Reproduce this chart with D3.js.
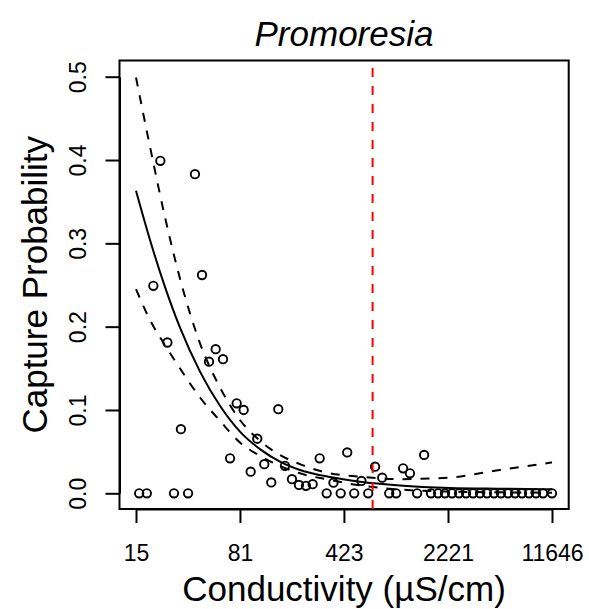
<!DOCTYPE html>
<html>
<head>
<meta charset="utf-8">
<script src="https://cdn.jsdelivr.net/npm/d3@7"></script>
<style>
  html, body { margin: 0; padding: 0; background: #fff; }
  svg { display: block; font-family: "Liberation Sans", Arial, Helvetica, sans-serif; }
</style>
</head>
<body>
<svg id="chart" width="589" height="609"></svg>
<script>
// ---- data ----
const title = "Promoresia";
const xLabel = "Conductivity (µS/cm)";
const yLabel = "Capture Probability";

// x tick positions (conductivity) and their printed labels
const xTickValues = [15.4, 80.7, 423, 2221, 11646];
const xTickLabels = ["15", "81", "423", "2221", "11646"];
const yTickValues = [0, 0.1, 0.2, 0.3, 0.4, 0.5];
const yTickLabels = ["0.0", "0.1", "0.2", "0.3", "0.4", "0.5"];

// observed sites: conductivity and capture probability
const siteCond = [16.2, 18.3, 20.3, 22.7, 25.4, 28.2, 31.5, 35.3, 39.4, 44.1,
  49.3, 54.8, 61.6, 68.9, 76.6, 85.6, 95.7, 106.3, 118.9, 132.9,
  148.6, 165.3, 184.8, 206.6, 231, 257, 287.4, 321.3, 358, 401.6,
  445.9, 498.4, 559, 623, 695, 778.7, 870.6, 971.8, 1086, 1211,
  1358, 1518, 1694, 1894, 2117, 2367, 2647, 2959, 3308, 3698,
  4135, 4623, 5168, 5778, 6460, 7221, 8074, 9026, 10091, 11646];
const siteProb = [0, 0, 0.249, 0.399, 0.181, 0, 0.077, 0, 0.383, 0.262,
  0.158, 0.173, 0.161, 0.042, 0.108, 0.100, 0.026, 0.0655, 0.035, 0.013,
  0.101, 0.033, 0.017, 0.010, 0.009, 0.011, 0.042, 0, 0.0127, 0,
  0.049, 0, 0.0148, 0, 0.032, 0.0187, 0, 0, 0.030, 0.024,
  0, 0.046, 0, 0, 0, 0, 0, 0, 0, 0,
  0, 0, 0, 0, 0, 0, 0, 0, 0, 0];

// fitted curve and confidence bounds, read at these conductivities
const curveCond = [15.4, 19.25, 24.4, 31.0, 42.7, 58.7, 80.7, 111, 152.6, 209.9, 338.6, 545.8, 1032, 2293, 5086, 11646];
const fitProb   = [0.363, 0.304, 0.248, 0.199, 0.146, 0.105, 0.074, 0.053, 0.038, 0.028, 0.0195, 0.014, 0.0095, 0.0065, 0.0055, 0.0048];
const upperProb = [0.499, 0.416, 0.332, 0.258, 0.180, 0.127, 0.088, 0.063, 0.046, 0.035, 0.024, 0.020, 0.017, 0.019, 0.028, 0.037];
const lowerProb = [0.245, 0.208, 0.178, 0.150, 0.115, 0.087, 0.061, 0.045, 0.033, 0.024, 0.016, 0.0095, 0.0045, 0.002, 0.0012, 0.0007];

// threshold (red dashed line)
const thresholdCond = [668];

// ---- layout ----
const box = { left: 119.5, right: 568.7, top: 60.5, bottom: 509 };
const svg = d3.select("#chart");

const x = d3.scaleLog().domain([15.4, 11646]).range([136, 552]);
const y = d3.scaleLinear().domain([0, 0.5]).range([493.3, 76.7]);

// box
svg.append("rect")
  .attr("x", box.left).attr("y", box.top)
  .attr("width", box.right - box.left).attr("height", box.bottom - box.top)
  .attr("fill", "none").attr("stroke", "#000").attr("stroke-width", 2);

// y axis
const yAxis = d3.axisLeft(y)
  .tickValues(yTickValues)
  .tickFormat((d, i) => yTickLabels[i])
  .tickSize(14).tickSizeOuter(0);
const gy = svg.append("g").attr("transform", `translate(${box.left},0)`).call(yAxis);
gy.select(".domain").attr("stroke-width", 2);
gy.selectAll(".tick line").attr("stroke-width", 2);
gy.selectAll(".tick text")
  .attr("x", null).attr("dy", null)
  .attr("transform", "translate(-33.5,0) rotate(-90)")
  .attr("text-anchor", "middle")
  .attr("font-size", 23)
  .attr("font-family", "Liberation Sans, Arial, sans-serif")
  .attr("fill", "#000");

// x axis
const xAxis = d3.axisBottom(x)
  .tickValues(xTickValues)
  .tickFormat((d, i) => xTickLabels[i])
  .tickSize(14).tickSizeOuter(0);
const gx = svg.append("g").attr("transform", `translate(0,${box.bottom})`).call(xAxis);
gx.select(".domain").attr("stroke-width", 2);
gx.selectAll(".tick line").attr("stroke-width", 2);
gx.selectAll(".tick text")
  .attr("y", 52).attr("dy", null)
  .attr("font-size", 23)
  .attr("font-family", "Liberation Sans, Arial, sans-serif")
  .attr("fill", "#000");

// curves
const line = d3.line().x(d => x(d[0])).y(d => y(d[1])).curve(d3.curveMonotoneX);
const series = [
  { vals: upperProb, dash: "9,9" },
  { vals: lowerProb, dash: "9,9" },
  { vals: fitProb, dash: null }
];
series.forEach(s => {
  svg.append("path")
    .datum(curveCond.map((c, i) => [c, s.vals[i]]))
    .attr("d", line)
    .attr("fill", "none")
    .attr("stroke", "#000")
    .attr("stroke-width", 2)
    .attr("stroke-dasharray", s.dash);
});

// points
svg.append("g").selectAll("circle")
  .data(siteCond.map((c, i) => [c, siteProb[i]]))
  .join("circle")
  .attr("cx", d => x(d[0]))
  .attr("cy", d => y(d[1]))
  .attr("r", 4.2)
  .attr("fill", "none")
  .attr("stroke", "#000")
  .attr("stroke-width", 1.9);

// threshold line
svg.append("g").selectAll("line")
  .data(thresholdCond)
  .join("line")
  .attr("x1", d => x(d)).attr("x2", d => x(d))
  .attr("y1", box.bottom).attr("y2", box.top)
  .attr("stroke", "#ff0000")
  .attr("stroke-width", 2)
  .attr("stroke-dasharray", "9,9");

// titles
svg.append("text")
  .attr("x", 344).attr("y", 46)
  .attr("text-anchor", "middle")
  .attr("font-size", 35)
  .attr("font-style", "italic")
  .text(title);

svg.append("text")
  .attr("x", 344).attr("y", 601)
  .attr("text-anchor", "middle")
  .attr("font-size", 35)
  .text(xLabel);

svg.append("text")
  .attr("transform", `translate(47,${(box.top + box.bottom) / 2}) rotate(-90)`)
  .attr("text-anchor", "middle")
  .attr("font-size", 35)
  .text(yLabel);
</script>
</body>
</html>
